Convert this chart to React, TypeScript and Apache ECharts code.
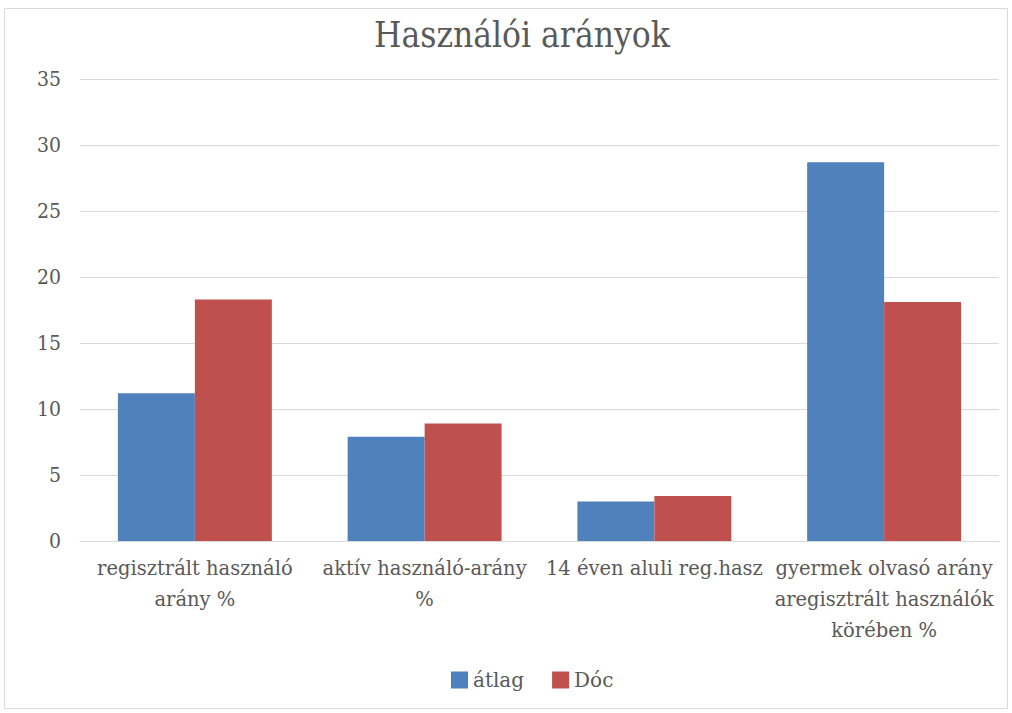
import React, { useEffect, useRef } from "react";
import * as echarts from "echarts";

const categories = [
  "regisztrált használó\narány %",
  "aktív használó-arány\n%",
  "14 éven aluli reg.hasz",
  "gyermek olvasó arány\naregisztrált használók\nkörében %",
];
const atlag = [11.2, 7.9, 3.0, 28.7];
const doc = [18.3, 8.9, 3.4, 18.1];
const seriesNames = ["átlag", "Dóc"];
const titleText = "Használói arányok";

const FONT = "'DejaVu Serif', serif";
const COND = "'DejaVu Serif Condensed', 'DejaVu Serif', serif";

export default function App() {
  const ref = useRef<HTMLDivElement>(null);
  useEffect(() => {
    document.body.style.margin = "0";
    const chart = echarts.init(ref.current!, undefined, { renderer: "svg" });
    chart.setOption({
      animation: false,
      backgroundColor: "#ffffff",
      textStyle: { fontFamily: FONT },
      title: {
        text: titleText,
        left: 369,
        top: 12,
        textStyle: { fontFamily: COND, fontSize: 35, fontWeight: "normal", color: "#595959" },
      },
      graphic: [
        {
          type: "rect",
          shape: { x: 4.5, y: 8.5, width: 1003, height: 700 },
          style: { fill: "none", stroke: "#d9d9d9", lineWidth: 1 },
          silent: true,
        },
      ],
      legend: {
        data: seriesNames,
        top: 665,
        left: 446,
        itemWidth: 17,
        itemHeight: 17,
        itemGap: 28,
        icon: "rect",
        textStyle: { fontFamily: FONT, fontSize: 20, color: "#595959" },
      },
      grid: { left: 80, right: 13, top: 79, bottom: 172, containLabel: false },
      xAxis: {
        type: "category",
        data: categories,
        axisLine: { show: true, lineStyle: { color: "#d9d9d9", width: 1 } },
        axisTick: { show: false },
        axisLabel: {
          interval: 0,
          fontFamily: FONT,
          fontSize: 19.5,
          color: "#595959",
          lineHeight: 31,
          margin: 12,
        },
      },
      yAxis: {
        type: "value",
        min: 0,
        max: 35,
        interval: 5,
        axisLine: { show: false },
        axisTick: { show: false },
        splitLine: { lineStyle: { color: "#d9d9d9", width: 1 } },
        axisLabel: { fontFamily: COND, fontSize: 21, color: "#595959", margin: 19 },
      },
      series: [
        {
          name: seriesNames[0],
          type: "bar",
          data: atlag,
          itemStyle: { color: "#4f81bd" },
          barGap: "0%",
          barCategoryGap: "33%",
        },
        {
          name: seriesNames[1],
          type: "bar",
          data: doc,
          itemStyle: { color: "#c0504d" },
          barGap: "0%",
          barCategoryGap: "33%",
        },
      ],
    });
    return () => chart.dispose();
  }, []);
  return <div ref={ref} style={{ width: 1012, height: 713 }} />;
}
